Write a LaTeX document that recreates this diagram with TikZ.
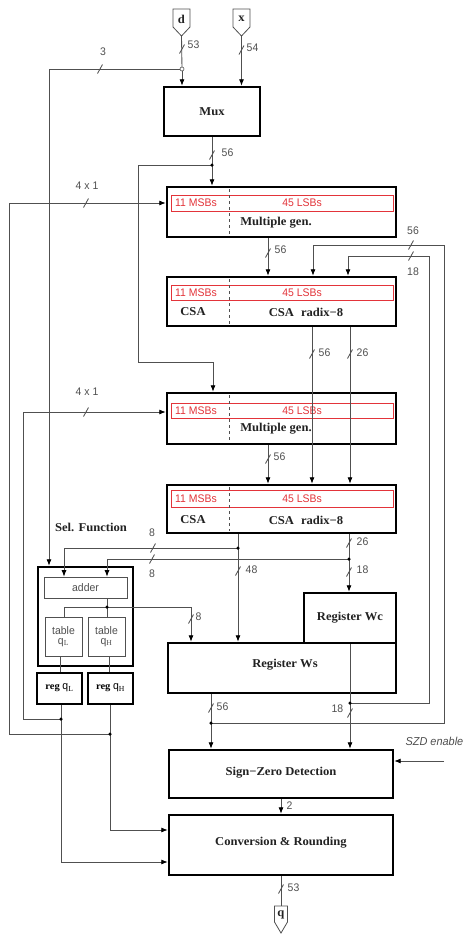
\documentclass[tikz,border=0pt]{standalone}
\usepackage{fontspec}
\setmainfont{Liberation Serif}
\newfontfamily\bxfont[FakeStretch=1.05]{Liberation Serif}
\newfontfamily\lbfont[FakeStretch=0.95]{Liberation Sans}
\usetikzlibrary{arrows.meta}
\definecolor{wire}{HTML}{505050}
\definecolor{redbox}{HTML}{E3343A}
\definecolor{ink}{HTML}{222222}
\tikzset{
  box/.style={draw=black, line width=2.4pt, fill=white, inner sep=0pt},
  subbox/.style={draw=wire, line width=0.7pt, fill=white, inner sep=0pt},
  redb/.style={draw=redbox, line width=0.7pt, inner sep=0pt},
  conn/.style={draw=wire, line width=0.85pt},
  arr/.style={conn, -{Latex[length=6.5pt,width=5pt,color=black]}},
  lbl/.style={font=\lbfont\fontsize{11}{11}\selectfont, text=wire, inner sep=0.5pt},
  redlbl/.style={font=\lbfont\fontsize{11}{11}\selectfont, text=redbox, inner sep=0pt},
  ttl/.style={font=\bxfont\bfseries\fontsize{12}{12}\selectfont, text=ink, inner sep=0pt},
  dot/.style={circle, fill=black, inner sep=0pt, minimum size=3.5pt},
  odot/.style={circle, draw=wire, fill=white, line width=0.6pt, inner sep=0pt, minimum size=4pt},
  slashmark/.pic={\draw[conn] (-2.5,4.5) -- (2.5,-4.5);},
  portshape/.style={draw=wire, line width=0.8pt, fill=white}
}
\begin{document}
\begin{tikzpicture}[x=1pt,y=-1pt]
\useasboundingbox (0,0) rectangle (464,935);
\fill[white] (0,0) rectangle (464,935);

% ---------- ports ----------
\draw[portshape] (173,9) -- (190,9) -- (190,27) -- (181.5,36) -- (173,27) -- cycle;
\node[ttl] (dport) at (181.5,19) {d};
\coordinate (dpt) at (181.5,36);
\draw[portshape] (233,9) -- (250,9) -- (250,27) -- (241.5,36) -- (233,27) -- cycle;
\node[ttl] (xport) at (241.5,19) {x};
\coordinate (xpt) at (241.5,36);
\draw[portshape] (274.5,906) -- (287.5,906) -- (287.5,922) -- (281,933) -- (274.5,922) -- cycle;
\node[ttl] (qport) at (281,915) {q};
\coordinate (qpt) at (281,906);

% ---------- main boxes ----------
\node[box, minimum width=96pt, minimum height=49pt] (mux) at (212,111.5) {};
\node[ttl] at (mux.center) {Mux};

\node[box, minimum width=229pt, minimum height=50pt] (mg1) at (281.5,212) {};
\node[redb, minimum width=222pt, minimum height=16pt] (mg1r) at (282,203) {};
\draw[wire, dashed, line width=0.6pt] (229,189) -- (229,235);
\node[redlbl] at (196,203) {11 MSBs};
\node[redlbl] at (302,203) {45 LSBs};
\node[ttl] at (276,223) {Multiple gen.};

\node[box, minimum width=229pt, minimum height=49pt] (csa1) at (281.5,301.5) {};
\node[redb, minimum width=222pt, minimum height=15pt] (csa1r) at (282,292.5) {};
\draw[wire, dashed, line width=0.6pt] (229,279) -- (229,324);
\node[redlbl] at (196,292.5) {11 MSBs};
\node[redlbl] at (302,292.5) {45 LSBs};
\node[ttl] at (193,312) {CSA};
\node[ttl] at (306,312) {CSA\hspace{7pt}radix{\bfseries\textminus}8};

\node[box, minimum width=229pt, minimum height=51pt] (mg2) at (281.5,418.5) {};
\node[redb, minimum width=222pt, minimum height=15pt] (mg2r) at (282,410.5) {};
\draw[wire, dashed, line width=0.6pt] (229,395) -- (229,442);
\node[redlbl] at (196,410.5) {11 MSBs};
\node[redlbl] at (302,410.5) {45 LSBs};
\node[ttl] at (276,429) {Multiple gen.};

\node[box, minimum width=229pt, minimum height=48pt] (csa2) at (281.5,509) {};
\node[redb, minimum width=222pt, minimum height=17pt] (csa2r) at (282,498.5) {};
\draw[wire, dashed, line width=0.6pt] (229,487) -- (229,531);
\node[redlbl] at (196,498.5) {11 MSBs};
\node[redlbl] at (302,498.5) {45 LSBs};
\node[ttl] at (193,520) {CSA};
\node[ttl] at (306,520) {CSA\hspace{7pt}radix{\bfseries\textminus}8};

\node[box, minimum width=228pt, minimum height=50pt] (ws) at (282,668) {};
\node[ttl] at (285,665) {Register Ws};
\node[box, minimum width=92pt, minimum height=50pt] (wc) at (350,618) {};
\node[ttl] at (350,618) {Register Wc};

\node[box, minimum width=224pt, minimum height=48pt] (szd) at (281,774) {};
\node[ttl] at (281,773) {Sign{\textminus}Zero Detection};
\node[box, minimum width=224pt, minimum height=60pt] (conv) at (281,845) {};
\node[ttl] at (281,843) {Conversion \& Rounding};

% ---------- selection function ----------
\node[ttl] (selttl) at (91,527) {Sel. Function};
\node[box, minimum width=95pt, minimum height=99pt] (sel) at (85.5,616.5) {};
\node[subbox, minimum width=83pt, minimum height=21pt] (adder) at (85.5,587.5) {};
\node[lbl] at (adder.center) {adder};
\node[subbox, minimum width=37pt, minimum height=39pt] (tabL) at (63.5,636.5) {};
\node[lbl, align=center] at (63.5,636.5) {table\\[-1pt]q$_{\mathrm{L}}$};
\node[subbox, minimum width=37pt, minimum height=39pt] (tabH) at (106.5,636.5) {};
\node[lbl, align=center] at (106.5,636.5) {table\\[-1pt]q$_{\mathrm{H}}$};
\node[box, minimum width=45pt, minimum height=31pt] (regL) at (59.5,688.5) {};
\node[inner sep=0pt] at (59.5,688) {\bxfont\bfseries\fontsize{10}{10}\selectfont reg \lbfont\mdseries\fontsize{11}{11}\selectfont q$_{\mathrm{L}}$};
\node[box, minimum width=45pt, minimum height=31pt] (regH) at (110.5,688.5) {};
\node[inner sep=0pt] at (110.5,688) {\bxfont\bfseries\fontsize{10}{10}\selectfont reg \lbfont\mdseries\fontsize{11}{11}\selectfont q$_{\mathrm{H}}$};

% ---------- junction coordinates ----------
\coordinate (j1) at (182,69);
\coordinate (j2) at (212,165);
\coordinate (j3) at (238,548);
\coordinate (j4) at (349,559);
\coordinate (j5) at (107,607);
\coordinate (j6) at (61,719);
\coordinate (j7) at (110,734);
\coordinate (j8) at (211,723);
\coordinate (j9) at (350,703);

% ---------- connectors ----------
% inputs
\draw[conn] (dpt) -- (j1);
\draw[arr] (j1) -- (j1 |- mux.north);
\draw[arr] (xpt) -- (xpt |- mux.north);
\pic at (182,49) {slashmark};
\node[lbl, anchor=west] at (187,45) {53};
\pic at (241.5,50) {slashmark};
\node[lbl, anchor=west] at (246,48) {54};
% 3 bits to selection
\coordinate (c3) at (49,69);
\draw[arr] (j1) -- (c3) -- (c3 |- sel.north);
\pic at (100,69) {slashmark};
\node[lbl] at (103,52) {3};
% mux output
\draw[conn] (mux.south -| j2) -- (j2);
\draw[arr] (j2) -- (j2 |- mg1.north);
\pic at (212,155) {slashmark};
\node[lbl, anchor=west] at (221,153) {56};
\coordinate (c5a) at (138,165);
\coordinate (c5b) at (138,362);
\coordinate (c5c) at (213,362);
\draw[arr] (j2) -- (c5a) -- (c5b) -- (c5c) -- (c5c |- mg2.north);
% 4x1 inputs
\coordinate (c6) at (9,734);
\coordinate (c6b) at (9,203);
\draw[arr] (j7) -- (c6) -- (c6b) -- (c6b -| mg1.west);
\pic at (86,203) {slashmark};
\node[lbl] at (87,186) {4 x 1};
\coordinate (c7) at (23,719);
\coordinate (c7b) at (23,412);
\draw[arr] (j6) -- (c7) -- (c7b) -- (c7b -| mg2.west);
\pic at (86,412) {slashmark};
\node[lbl] at (87,392) {4 x 1};
% mg1 -> csa1
\draw[arr] (268,0 |- mg1.south) -- (268,0 |- csa1.north);
\pic at (268,253) {slashmark};
\node[lbl, anchor=west] at (274,250) {56};
% feedback loops
\coordinate (f1a) at (444,723);
\coordinate (f1b) at (444,245);
\coordinate (f1c) at (313,245);
\draw[arr] (j8) -- (f1a) -- (f1b) -- (f1c) -- (f1c |- csa1.north);
\pic at (411,245) {slashmark};
\node[lbl] at (413,231) {56};
\coordinate (f2a) at (429,703);
\coordinate (f2b) at (429,256);
\coordinate (f2c) at (348,256);
\draw[arr] (j9) -- (f2a) -- (f2b) -- (f2c) -- (f2c |- csa1.north);
\pic at (411,256) {slashmark};
\node[lbl] at (413,272) {18};
% csa1 -> csa2
\draw[arr] (312,0 |- csa1.south) -- (312,0 |- csa2.north);
\pic at (312,354) {slashmark};
\node[lbl, anchor=west] at (318,353) {56};
\draw[arr] (350,0 |- csa1.south) -- (350,0 |- csa2.north);
\pic at (350,354) {slashmark};
\node[lbl, anchor=west] at (356,353) {26};
% mg2 -> csa2
\draw[arr] (268,0 |- mg2.south) -- (268,0 |- csa2.north);
\pic at (268,459) {slashmark};
\node[lbl, anchor=west] at (273,457) {56};
% csa2 outputs
\draw[conn] (j3 |- csa2.south) -- (j3);
\draw[arr] (j3) -- (j3 |- ws.north);
\pic at (238,571) {slashmark};
\node[lbl, anchor=west] at (245,570) {48};
\draw[conn] (j4 |- csa2.south) -- (j4);
\draw[arr] (j4) -- (j4 |- wc.north);
\pic at (349,543) {slashmark};
\node[lbl, anchor=west] at (356,542) {26};
\pic at (349,572) {slashmark};
\node[lbl, anchor=west] at (356,570) {18};
% to adder
\coordinate (c16) at (64,548);
\draw[arr] (j3) -- (c16) -- (c16 |- adder.north);
\pic at (153,548) {slashmark};
\node[lbl] at (152,533) {8};
\coordinate (c17) at (107,559);
\draw[arr] (j4) -- (c17) -- (c17 |- adder.north);
\pic at (152,559) {slashmark};
\node[lbl] at (152,574) {8};
% adder outputs
\draw[conn] (j5 |- adder.south) -- (j5);
\draw[conn] (j5) -- (j5 |- tabH.north);
\coordinate (c18a) at (64,607);
\draw[conn] (j5) -- (c18a) -- (c18a |- tabL.north);
\coordinate (c18b) at (191,607);
\draw[arr] (j5) -- (c18b) -- (c18b |- ws.north);
\pic at (191,619) {slashmark};
\node[lbl, anchor=west] at (195,617) {8};
% tables -> registers
\draw[conn] (60,0 |- tabL.south) -- (60,0 |- regL.north);
\draw[conn] (109,0 |- tabH.south) -- (109,0 |- regH.north);
% registers -> conversion
\draw[conn] (j6 |- regL.south) -- (j6);
\coordinate (c20) at (61,862);
\draw[arr] (j6) -- (c20) -- (c20 -| conv.west);
\draw[conn] (j7 |- regH.south) -- (j7);
\coordinate (c21) at (110,830);
\draw[arr] (j7) -- (c21) -- (c21 -| conv.west);
% ws -> szd
\draw[conn] (j8 |- ws.south) -- (j8);
\draw[arr] (j8) -- (j8 |- szd.north);
\pic at (211,708) {slashmark};
\node[lbl, anchor=west] at (216,707) {56};
% wc -> szd (through ws)
\draw[conn] (j9 |- wc.south) -- (j9);
\draw[arr] (j9) -- (j9 |- szd.north);
\pic at (350,713) {slashmark};
\node[lbl, anchor=east] at (344,709) {18};
% SZD enable
\coordinate (en) at (444,761);
\draw[arr] (en) -- (en -| szd.east);
\node[lbl, anchor=east, font=\lbfont\itshape\fontsize{11.5}{11.5}\selectfont] at (464,741) {SZD enable};
% szd -> conv
\draw[arr] (szd.south) -- (conv.north);
\node[lbl, anchor=west] at (286,806) {2};
% conv -> q
\draw[conn] (conv.south) -- (qpt);
\pic at (281,889) {slashmark};
\node[lbl, anchor=west] at (287,888) {53};

% ---------- junction dots ----------
\node[odot] at (j1) {};
\foreach \j in {j2,j3,j4,j5,j6,j7,j8,j9} \node[dot] at (\j) {};
\end{tikzpicture}
\end{document}
